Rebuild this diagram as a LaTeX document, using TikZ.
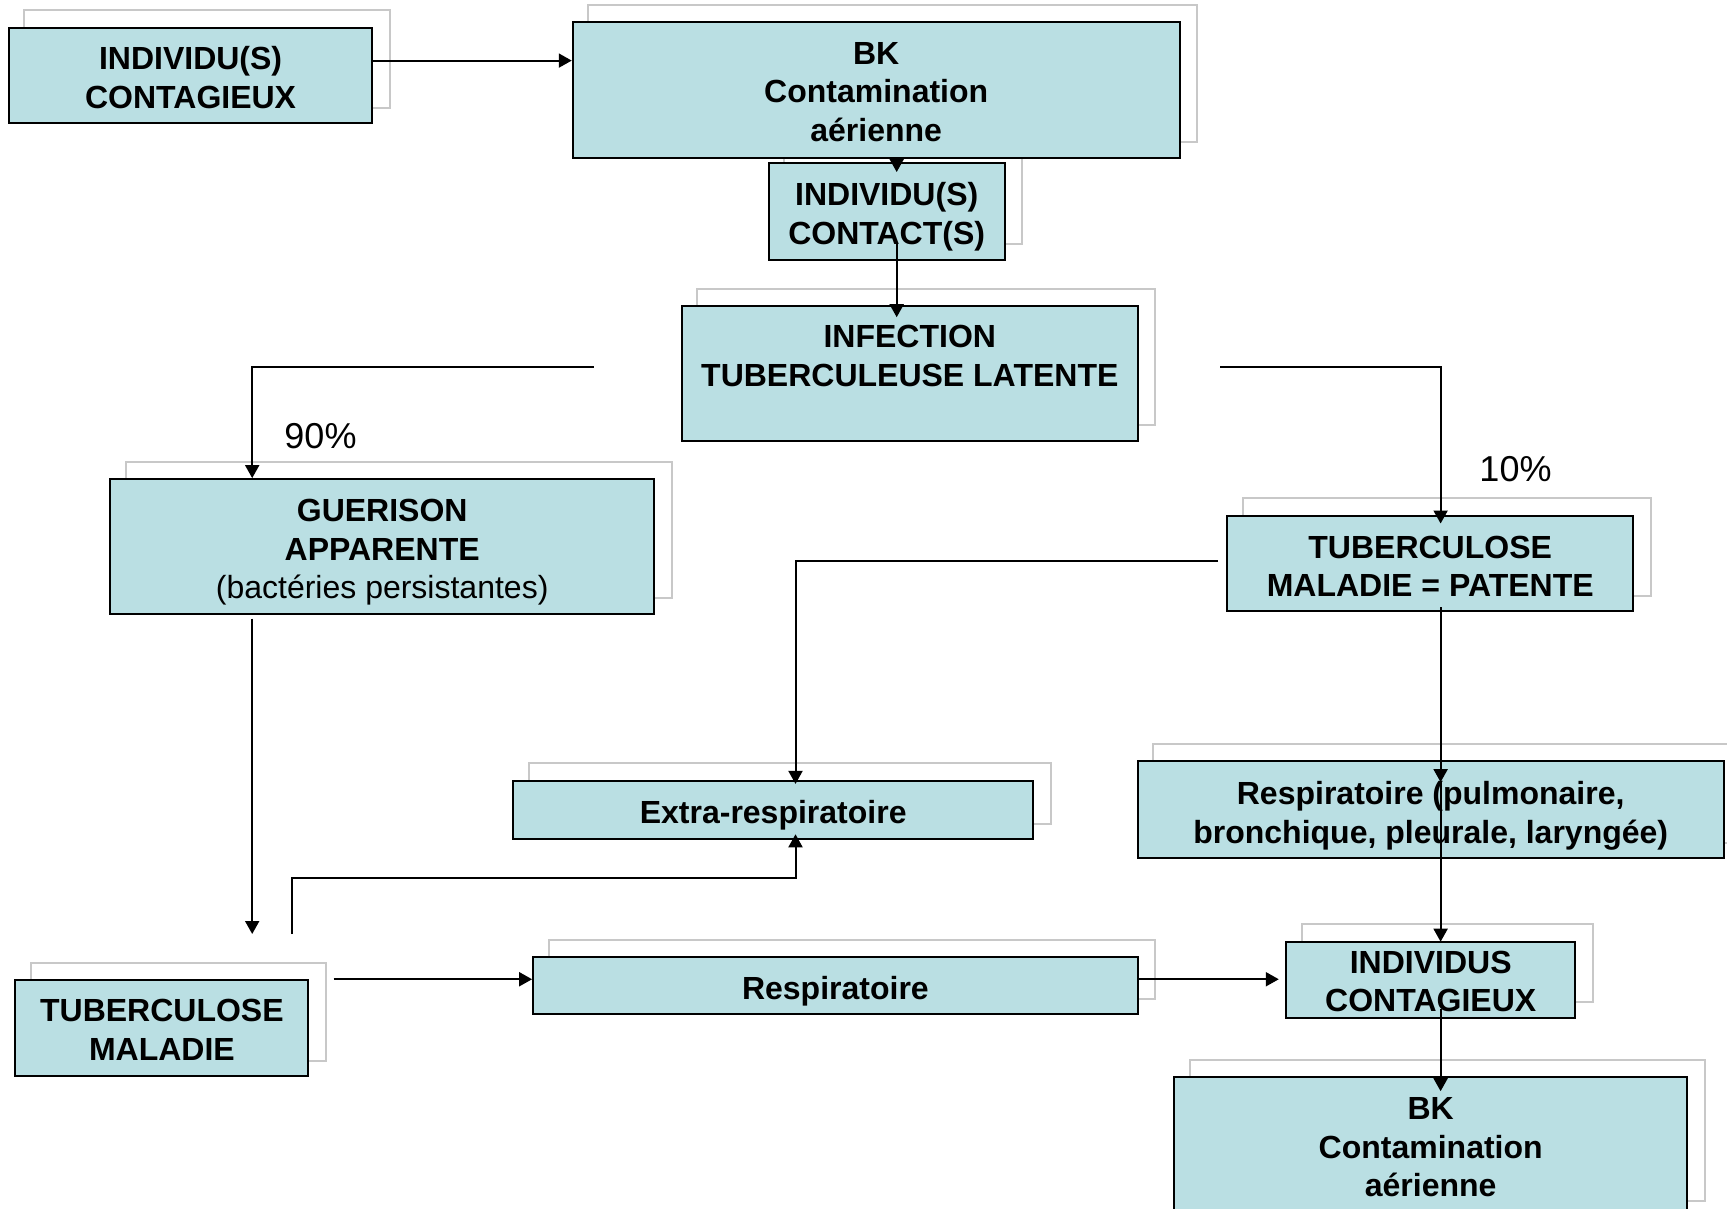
\documentclass[tikz,border=0pt]{standalone}
\usepackage{fontspec}
\setmainfont{Liberation Sans}
\usetikzlibrary{arrows.meta,calc}
\definecolor{boxfill}{RGB}{186,223,227}
\definecolor{shadowgray}{RGB}{200,200,200}
\pgfdeclarelayer{bg}
\pgfsetlayers{bg,main}
\begin{document}
\begin{tikzpicture}[x=1pt,y=-1pt,
  box/.style={draw=black, line width=2pt, fill=boxfill, inner sep=0pt, anchor=center},
  lbl/.style={inner sep=0pt, align=center, anchor=base,
    font=\fontsize{32}{38.5}\selectfont\bfseries},
  arr/.style={line width=2pt, -{Triangle[length=13pt,width=14pt]}},
  shad/.style={draw=shadowgray, line width=2pt},
  pct/.style={inner sep=0pt, font=\fontsize{36}{40}\selectfont}]
\useasboundingbox (0,0) rectangle (1727,1209);

% boxes
\node[box, minimum width=363.5pt, minimum height=95.9pt] (A) at (190.6,75.5) {};
\node[box, minimum width=235.7pt, minimum height=96.9pt] (C) at (886.7,211.5) {};
\node[box, minimum width=606.9pt, minimum height=135.5pt] (B) at (876.2,89.8) {};
\node[box, minimum width=455.9pt, minimum height=134.4pt] (D) at (909.8,373.4) {};
\node[box, minimum width=544.1pt, minimum height=134.4pt] (E) at (382.2,546.3) {};
\node[box, minimum width=406.4pt, minimum height=95.8pt] (F) at (1430.2,563.4) {};
\node[box, minimum width=519.8pt, minimum height=58.4pt] (G) at (773.2,810.1) {};
\node[box, minimum width=586pt, minimum height=96.9pt] (H) at (1430.7,809.6) {};
\node[box, minimum width=288.6pt, minimum height=76pt] (I) at (1430.7,979.7) {};
\node[box, minimum width=513.2pt, minimum height=138.8pt] (J) at (1430.7,1146.6) {};
\node[box, minimum width=293pt, minimum height=95.9pt] (K) at (161.9,1028.2) {};
\node[box, minimum width=604.6pt, minimum height=57.3pt] (L) at (835.4,985.8) {};

% texts (placed by the baseline of their last line)
\node[lbl] (At) at (190.6,108.5) {INDIVIDU(S)\\CONTAGIEUX};
\node[lbl] (Bt) at (876.2,141.5) {BK\\Contamination\\aérienne};
\node[lbl] (Ct) at (886.7,244.0) {INDIVIDU(S)\\CONTACT(S)};
\node[lbl] (Dt) at (909.8,386.1) {INFECTION\\TUBERCULEUSE LATENTE};
\node[lbl] (Et) at (382.2,598.6) {GUERISON\\APPARENTE\\{\mdseries (bactéries persistantes)}};
\node[lbl] (Ft) at (1430.2,596.5) {TUBERCULOSE\\MALADIE = PATENTE};
\node[lbl] (Gt) at (773.2,823.4) {Extra-respiratoire};
\node[lbl] (Ht) at (1430.7,843.2) {Respiratoire (pulmonaire,\\bronchique, pleurale, laryngée)};
\node[lbl] (It) at (1430.7,1011.7) {INDIVIDUS\\CONTAGIEUX};
\node[lbl] (Jt) at (1430.7,1196.7) {BK\\Contamination\\aérienne};
\node[lbl] (Kt) at (161.9,1060.2) {TUBERCULOSE\\MALADIE};
\node[lbl] (Lt) at (835.4,999.6) {Respiratoire};

% shadows
\begin{pgfonlayer}{bg}
\foreach \n in {A,B,C,D,E,F,G,H,I,J,K,L}{
  \draw[shad] ($(\n.south west)+(16.5,-16.5)$) rectangle ($(\n.north east)+(16.5,-16.5)$);
}
\end{pgfonlayer}

% labels
\node[pct] (p90) at (320.5,436.2) {90\%};
\node[pct] (p10) at (1515.5,469.2) {10\%};

% helper coordinates
\coordinate (yab) at (0,60.6);
\coordinate (vbc) at (896.7,0);
\coordinate (vx) at (1440.6,0);
\coordinate (eEnd) at (252.2,934);
\coordinate (kStart) at (291.9,934);
\coordinate (kTurn) at (291.9,877.8);
\coordinate (dl) at ($(D.west)+(-87.1,-6.6)$);
\coordinate (dr) at ($(D.east)+(81.5,-6.6)$);
\coordinate (fl) at ($(F.west)+(-7.8,-2.8)$);

% connectors
\draw[arr] (A.east |- yab) -- (B.west |- yab);
\draw[arr] (B.south -| vbc) -- ($(C.north -| vbc)+(0,10)$);
\draw[arr] ($(C.south -| vbc)+(0,-17)$) -- ($(D.north -| vbc)+(0,12)$);
\draw[arr] (dl) -| ($(E.north)+(-130,0)$);
\draw[arr] (dr) -| ($(F.north)+(10.4,9)$);
\draw[arr] (fl) -| ($(G.north)+(22.3,4)$);
\draw[arr] ($(F.south -| vx)+(0,-5)$) -- ($(H.north -| vx)+(0,22)$);
\draw[arr] ($(H.north -| vx)+(0,22)$) -- ($(I.north -| vx)+(0,1)$);
\draw[arr] ($(I.south -| vx)+(0,-10)$) -- ($(J.north -| vx)+(0,15)$);
\draw[arr] ($(E.south)+(-130,4)$) -- (eEnd);
\draw[arr] (kStart) -- (kTurn) -| ($(G.south)+(22.3,-6)$);
\draw[arr] ($(K.north east)+(24.2,0)$) -- (L.west |- K.north east);
\draw[arr] (L.east |- K.north east) -- ($(I.west |- K.north east)+(-6.6,0)$);
\end{tikzpicture}
\end{document}
